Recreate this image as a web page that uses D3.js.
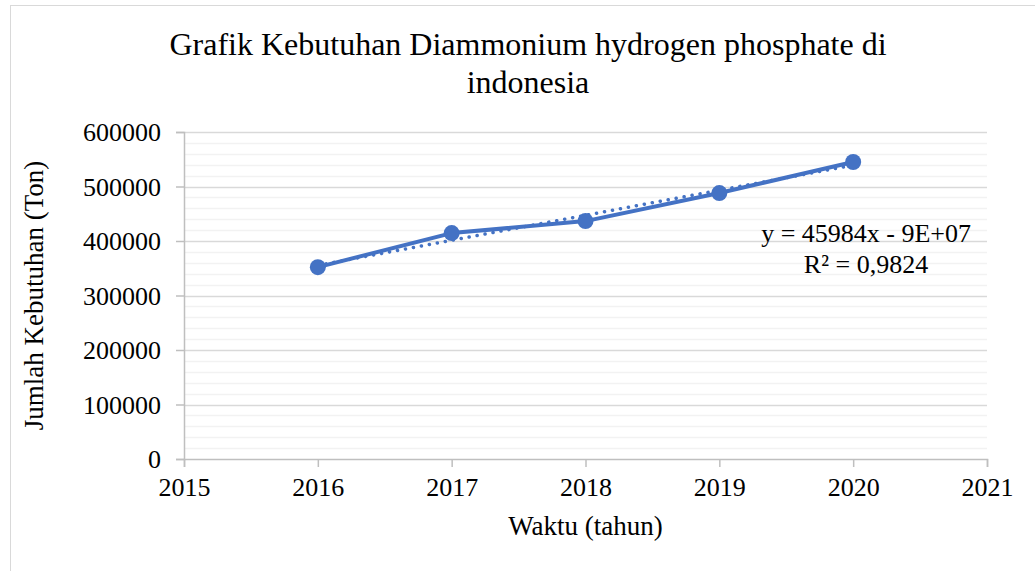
<!DOCTYPE html>
<html>
<head>
<meta charset="utf-8">
<script src="https://cdn.jsdelivr.net/npm/d3@7"></script>
<style>
  body { margin: 0; background: #fff; }
</style>
</head>
<body>
<div id="chart"></div>
<script>
const years = [2016, 2017, 2018, 2019, 2020];
const demand = [352000, 414500, 436500, 488000, 545000];
const xTicks = [2015, 2016, 2017, 2018, 2019, 2020, 2021];
const yTicks = [0, 100000, 200000, 300000, 400000, 500000, 600000];
const titleLines = ['Grafik Kebutuhan Diammonium hydrogen phosphate di', 'indonesia'];
const trendLabel = ['y = 45984x - 9E+07', 'R² = 0,9824'];

const width = 1035;
const height = 571;
const margin = { top: 132, right: 46, bottom: 112, left: 184 };
const serif = '"Liberation Serif", "Times New Roman", serif';

const svg = d3.select('#chart')
    .append('svg')
    .attr('width', width)
    .attr('height', height)
    .style('font-family', serif);

// chart frame (runs off the right and bottom edges like the screenshot)
svg.append('rect')
    .attr('x', 10.5).attr('y', 5.5)
    .attr('width', 1040).attr('height', 580)
    .attr('fill', '#fff')
    .attr('stroke', '#d9d9d9');

const x = d3.scaleLinear()
    .domain([2015, 2021])
    .range([margin.left, width - margin.right - 2]);

const y = d3.scaleLinear()
    .domain([0, 600000])
    .range([height - margin.bottom, margin.top]);

// minor grid
const minor = d3.range(0, 600001, 20000).filter(v => v % 100000 !== 0);
svg.append('g').selectAll('line')
    .data(minor)
    .enter()
    .append('line')
    .attr('x1', x(2015)).attr('x2', x(2021))
    .attr('y1', d => Math.round(y(d)) + 0.5)
    .attr('y2', d => Math.round(y(d)) + 0.5)
    .attr('stroke', '#f2f2f2')
    .attr('stroke-width', 1.5);

// major grid
svg.append('g').selectAll('line')
    .data(yTicks.slice(1))
    .enter()
    .append('line')
    .attr('x1', x(2015)).attr('x2', x(2021))
    .attr('y1', d => Math.round(y(d)) + 0.5)
    .attr('y2', d => Math.round(y(d)) + 0.5)
    .attr('stroke', '#d9d9d9')
    .attr('stroke-width', 1.5);

// y axis
const yAxis = svg.append('g')
    .attr('transform', `translate(${x(2015)},0)`)
    .call(d3.axisLeft(y).tickValues(yTicks).tickFormat(d3.format('d')).tickSize(8).tickPadding(15));
yAxis.attr('font-family', serif).attr('font-size', 26);
yAxis.select('.domain').attr('stroke', '#bfbfbf').attr('stroke-width', 1.5);
yAxis.selectAll('.tick line').attr('stroke', '#bfbfbf').attr('stroke-width', 1.5);
yAxis.selectAll('text').attr('fill', '#000').attr('dy', '0.33em');

// x axis
const xAxis = svg.append('g')
    .attr('transform', `translate(0,${y(0)})`)
    .call(d3.axisBottom(x).tickValues(xTicks).tickFormat(d3.format('d')).tickSize(8).tickPadding(11));
xAxis.attr('font-family', serif).attr('font-size', 26);
xAxis.select('.domain').attr('stroke', '#bfbfbf').attr('stroke-width', 1.5);
xAxis.selectAll('.tick line').attr('stroke', '#bfbfbf').attr('stroke-width', 1.5);
xAxis.selectAll('text').attr('fill', '#000');

// linear trendline (least squares from the data)
const mx = d3.mean(years);
const my = d3.mean(demand);
const slope = d3.sum(years, (v, i) => (v - mx) * (demand[i] - my)) / d3.sum(years, v => (v - mx) ** 2);
const icpt = my - slope * mx;
const ends = [years[0], years[years.length - 1]];

svg.append('line')
    .attr('x1', x(ends[0])).attr('y1', y(icpt + slope * ends[0]))
    .attr('x2', x(ends[1])).attr('y2', y(icpt + slope * ends[1]))
    .attr('stroke', '#4472c4')
    .attr('stroke-width', 3.5)
    .attr('stroke-linecap', 'round')
    .attr('stroke-dasharray', '0.1 8');

// series line
const line = d3.line()
    .x((d, i) => x(years[i]))
    .y(d => y(d));

svg.append('path')
    .datum(demand)
    .attr('fill', 'none')
    .attr('stroke', '#4472c4')
    .attr('stroke-width', 4)
    .attr('stroke-linejoin', 'round')
    .attr('d', line);

svg.selectAll('circle.pt')
    .data(demand)
    .enter()
    .append('circle')
    .attr('class', 'pt')
    .attr('cx', (d, i) => x(years[i]))
    .attr('cy', d => y(d))
    .attr('r', 8)
    .attr('fill', '#4472c4');

// trend equation
svg.append('text')
    .attr('x', 971).attr('y', 242)
    .attr('text-anchor', 'end')
    .attr('font-size', 26)
    .text(trendLabel[0]);
svg.append('text')
    .attr('x', 866).attr('y', 273)
    .attr('text-anchor', 'middle')
    .attr('font-size', 26)
    .text(trendLabel[1]);

// title
svg.selectAll('text.title')
    .data(titleLines)
    .enter()
    .append('text')
    .attr('class', 'title')
    .attr('x', 528)
    .attr('y', (d, i) => 55 + i * 38)
    .attr('text-anchor', 'middle')
    .attr('font-size', 32)
    .text(d => d);

// axis titles
svg.append('text')
    .attr('x', (x(2015) + x(2021)) / 2)
    .attr('y', 535)
    .attr('text-anchor', 'middle')
    .attr('font-size', 27)
    .text('Waktu (tahun)');

svg.append('text')
    .attr('transform', `translate(43,${(y(0) + y(600000)) / 2}) rotate(-90)`)
    .attr('text-anchor', 'middle')
    .attr('font-size', 27)
    .text('Jumlah Kebutuhan (Ton)');
</script>
</body>
</html>
